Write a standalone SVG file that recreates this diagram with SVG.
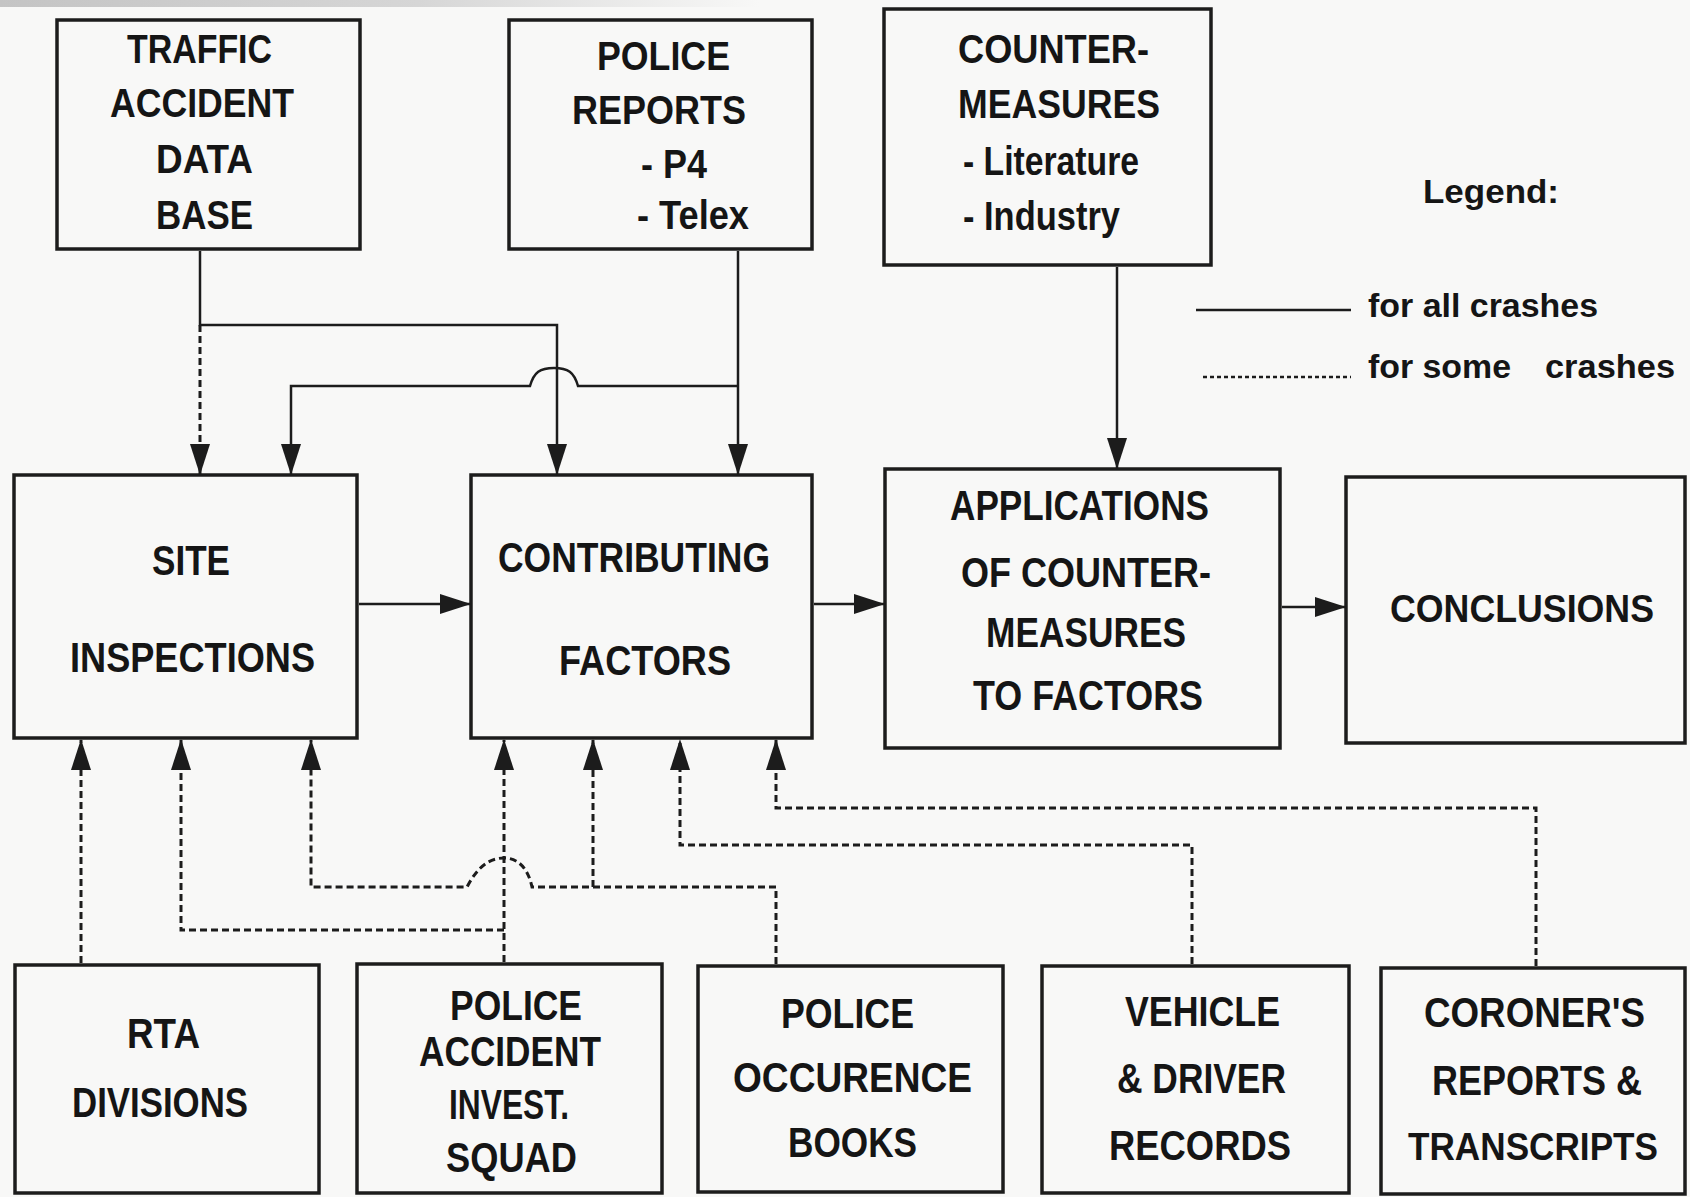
<svg xmlns="http://www.w3.org/2000/svg" width="1690" height="1197" viewBox="0 0 1690 1197">
<style>
.bg{fill:#f8f8f7}
.box{fill:none;stroke:#1c1c1c;stroke-width:3.5}
.t{font-family:"Liberation Sans",Arial,Helvetica,sans-serif;font-weight:bold;fill:#151515;font-size:42px}
.t1{font-size:40px}
.t2{font-size:38px}
.lg{font-size:33px}
.s{fill:none;stroke:#1c1c1c;stroke-width:2.5}
.d{fill:none;stroke:#1c1c1c;stroke-width:3;stroke-dasharray:7 4}
.dl{fill:none;stroke:#1c1c1c;stroke-width:2.5;stroke-dasharray:4 3}
</style>
<defs>
<marker id="ah" markerUnits="userSpaceOnUse" markerWidth="32" markerHeight="20" viewBox="0 0 32 20" refX="30" refY="10" orient="auto"><path d="M0 0 L31 10 L0 20 z" fill="#1c1c1c"/></marker>
<linearGradient id="scan" x1="0" x2="1" y1="0" y2="0"><stop offset="0" stop-color="#c4c4c4"/><stop offset="0.55" stop-color="#d6d6d6"/><stop offset="1" stop-color="#f8f8f7"/></linearGradient>
</defs>
<rect class="bg" x="0" y="0" width="1690" height="1197"/>
<rect x="0" y="0" width="760" height="7" fill="url(#scan)"/>

<g id="traffic-db">
<rect class="box" x="57" y="20" width="303" height="229"/>
<text class="t t1" x="127" y="63" textLength="145" lengthAdjust="spacingAndGlyphs">TRAFFIC</text>
<text class="t t1" x="110" y="117" textLength="184" lengthAdjust="spacingAndGlyphs">ACCIDENT</text>
<text class="t t1" x="156" y="173" textLength="97" lengthAdjust="spacingAndGlyphs">DATA</text>
<text class="t t1" x="156" y="229" textLength="97" lengthAdjust="spacingAndGlyphs">BASE</text>
</g>

<g id="police-reports">
<rect class="box" x="509" y="20" width="303" height="229"/>
<text class="t t1" x="597" y="70" textLength="133" lengthAdjust="spacingAndGlyphs">POLICE</text>
<text class="t t1" x="572" y="124" textLength="174" lengthAdjust="spacingAndGlyphs">REPORTS</text>
<text class="t t1" x="641" y="178" textLength="66" lengthAdjust="spacingAndGlyphs">- P4</text>
<text class="t t1" x="637" y="229" textLength="112" lengthAdjust="spacingAndGlyphs">- Telex</text>
</g>

<g id="countermeasures">
<rect class="box" x="884" y="9" width="327" height="256"/>
<text class="t t1" x="958" y="63" textLength="191" lengthAdjust="spacingAndGlyphs">COUNTER-</text>
<text class="t t1" x="958" y="118" textLength="202" lengthAdjust="spacingAndGlyphs">MEASURES</text>
<text class="t t1" x="963" y="175" textLength="176" lengthAdjust="spacingAndGlyphs">- Literature</text>
<text class="t t1" x="963" y="230" textLength="157" lengthAdjust="spacingAndGlyphs">- Industry</text>
</g>

<g id="legend">
<text class="t lg" x="1423" y="203" textLength="136" lengthAdjust="spacingAndGlyphs">Legend:</text>
<line class="s" x1="1196" y1="310" x2="1351" y2="310"/>
<text class="t lg" x="1368" y="317" textLength="230" lengthAdjust="spacingAndGlyphs">for all crashes</text>
<line class="dl" x1="1203" y1="377" x2="1351" y2="377"/>
<text class="t lg" y="378"><tspan x="1368" textLength="143" lengthAdjust="spacingAndGlyphs">for some</tspan> <tspan x="1545" textLength="130" lengthAdjust="spacingAndGlyphs">crashes</tspan></text>
</g>

<g id="site-inspections">
<rect class="box" x="14" y="475" width="343" height="263"/>
<text class="t" x="152" y="575" textLength="78" lengthAdjust="spacingAndGlyphs">SITE</text>
<text class="t" x="70" y="672" textLength="245" lengthAdjust="spacingAndGlyphs">INSPECTIONS</text>
</g>

<g id="contributing-factors">
<rect class="box" x="471" y="475" width="341" height="263"/>
<text class="t" x="498" y="572" textLength="272" lengthAdjust="spacingAndGlyphs">CONTRIBUTING</text>
<text class="t" x="559" y="675" textLength="172" lengthAdjust="spacingAndGlyphs">FACTORS</text>
</g>

<g id="applications">
<rect class="box" x="885" y="469" width="395" height="279"/>
<text class="t" x="950" y="520" textLength="259" lengthAdjust="spacingAndGlyphs">APPLICATIONS</text>
<text class="t" x="961" y="587" textLength="250" lengthAdjust="spacingAndGlyphs">OF COUNTER-</text>
<text class="t" x="986" y="647" textLength="200" lengthAdjust="spacingAndGlyphs">MEASURES</text>
<text class="t" x="973" y="710" textLength="230" lengthAdjust="spacingAndGlyphs">TO FACTORS</text>
</g>

<g id="conclusions">
<rect class="box" x="1346" y="477" width="339" height="266"/>
<text class="t t2" x="1390" y="622" textLength="264" lengthAdjust="spacingAndGlyphs">CONCLUSIONS</text>
</g>

<g id="rta-divisions">
<rect class="box" x="15" y="965" width="304" height="228"/>
<text class="t" x="127" y="1048" textLength="73" lengthAdjust="spacingAndGlyphs">RTA</text>
<text class="t" x="72" y="1117" textLength="176" lengthAdjust="spacingAndGlyphs">DIVISIONS</text>
</g>

<g id="police-accident-squad">
<rect class="box" x="357" y="964" width="305" height="229"/>
<text class="t" x="450" y="1020" textLength="132" lengthAdjust="spacingAndGlyphs">POLICE</text>
<text class="t" x="419" y="1066" textLength="182" lengthAdjust="spacingAndGlyphs">ACCIDENT</text>
<text class="t" x="449" y="1119" textLength="120" lengthAdjust="spacingAndGlyphs">INVEST.</text>
<text class="t" x="446" y="1172" textLength="131" lengthAdjust="spacingAndGlyphs">SQUAD</text>
</g>

<g id="police-occurence-books">
<rect class="box" x="698" y="966" width="305" height="226"/>
<text class="t" x="781" y="1028" textLength="133" lengthAdjust="spacingAndGlyphs">POLICE</text>
<text class="t" x="733" y="1092" textLength="239" lengthAdjust="spacingAndGlyphs">OCCURENCE</text>
<text class="t" x="788" y="1157" textLength="129" lengthAdjust="spacingAndGlyphs">BOOKS</text>
</g>

<g id="vehicle-driver-records">
<rect class="box" x="1042" y="966" width="307" height="227"/>
<text class="t" x="1125" y="1026" textLength="155" lengthAdjust="spacingAndGlyphs">VEHICLE</text>
<text class="t" x="1117" y="1093" textLength="169" lengthAdjust="spacingAndGlyphs">&amp; DRIVER</text>
<text class="t" x="1109" y="1160" textLength="182" lengthAdjust="spacingAndGlyphs">RECORDS</text>
</g>

<g id="coroners-reports">
<rect class="box" x="1381" y="968" width="304" height="226"/>
<text class="t" x="1424" y="1027" textLength="221" lengthAdjust="spacingAndGlyphs">CORONER'S</text>
<text class="t" x="1432" y="1095" textLength="210" lengthAdjust="spacingAndGlyphs">REPORTS &amp;</text>
<text class="t t2" x="1408" y="1160" textLength="250" lengthAdjust="spacingAndGlyphs">TRANSCRIPTS</text>
</g>

<g id="connectors">
<path class="s" d="M200 251 V325 H557 V474" marker-end="url(#ah)"/>
<path class="d" d="M200 325 V474" marker-end="url(#ah)"/>
<path class="s" d="M738 251 V474" marker-end="url(#ah)"/>
<path class="s" d="M738 386 H578 C574 372 568 368 554 368 C540 368 534 372 530 386 H291 V474" marker-end="url(#ah)"/>
<path class="s" d="M1117 267 V468" marker-end="url(#ah)"/>
<path class="s" d="M359 604 H470" marker-end="url(#ah)"/>
<path class="s" d="M814 604 H884" marker-end="url(#ah)"/>
<path class="s" d="M1282 607 H1345" marker-end="url(#ah)"/>
<path class="d" d="M81 963 V740" marker-end="url(#ah)"/>
<path class="d" d="M504 962 V740" marker-end="url(#ah)"/>
<path class="d" d="M504 930 H181 V740" marker-end="url(#ah)"/>
<path class="d" d="M776 964 V887 H532 C528 868 518 858 504 858 C490 858 478 866 467 887 H311 V740" marker-end="url(#ah)"/>
<path class="d" d="M593 887 V740" marker-end="url(#ah)"/>
<path class="d" d="M1192 964 V845 H680 V740" marker-end="url(#ah)"/>
<path class="d" d="M1536 966 V808 H776 V740" marker-end="url(#ah)"/>
</g>
</svg>
